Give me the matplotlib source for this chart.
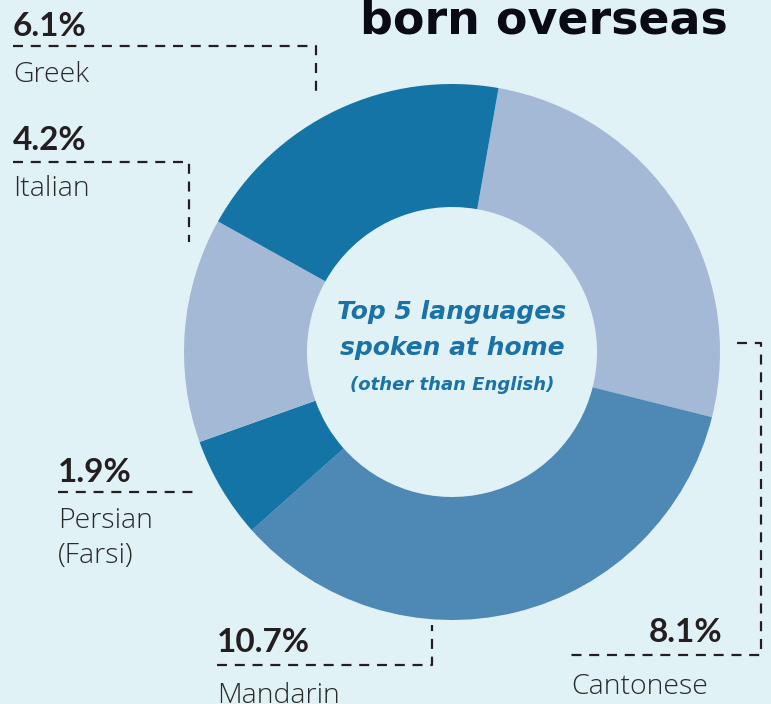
import matplotlib.pyplot as plt

# data
languages = ["Cantonese", "Mandarin", "Persian\n(Farsi)", "Italian", "Greek"]
shares = [8.1, 10.7, 1.9, 4.2, 6.1]
colours = ["#a3b9d6", "#4e88b5", "#1474a6", "#a3b9d6", "#1474a6"]

bg = "#e1f2f7"
ink = "#231f20"
H = 704  # pixel height, layout below is in image pixels (y down)

# label layout: (pct x, pct baseline, name x, name baseline, pct align, leader polyline)
layout = {
    "Greek": (13, 36, 13, 82, "left", [(13, 46), (316, 46), (316, 92)]),
    "Italian": (13, 150, 13, 196, "left", [(13, 162), (189, 162), (189, 242)]),
    "Persian\n(Farsi)": (58, 482, 58, 528, "left", [(58, 492), (198, 492)]),
    "Mandarin": (217, 652, 217, 703, "left", [(217, 665), (432, 665), (432, 625)]),
    "Cantonese": (722, 642, 571, 694, "right",
                  [(737, 343), (761, 343), (761, 655), (571, 655)]),
}

fig = plt.figure(figsize=(7.71, 7.04), dpi=100, facecolor=bg)
ax = fig.add_axes([0, 0, 1, 1])
ax.set_facecolor(bg)

cx, cy, r_out, r_in = 452, H - 352, 268, 145
ax.pie(shares, colors=colours, startangle=80, counterclock=False,
       center=(cx, cy), radius=r_out, frame=True,
       wedgeprops=dict(width=r_out - r_in, linewidth=0))
ax.set_xlim(0, 771)
ax.set_ylim(0, H)
ax.set_aspect("equal")
ax.axis("off")

for name in languages:
    px, py, nx, ny, ha, pts = layout[name]
    ax.text(px, H - py, f"{shares[languages.index(name)]}%", ha=ha, va="baseline",
            fontsize=24, fontweight="bold", family="Lato", color=ink)
    for i, ln in enumerate(name.split("\n")):
        ax.text(nx, H - ny - i * 35, ln, ha="left", va="baseline",
                fontsize=20.5, fontweight=300, family="Open Sans", color="#2a2a2a")
    xs = [p[0] for p in pts]
    ys = [H - p[1] for p in pts]
    ax.plot(xs, ys, color=ink, lw=1.6, dashes=(4.5, 3.5))

# centre text
blue = "#1a72a6"
ax.text(cx, H - 319, "Top 5 languages", ha="center", va="baseline", fontsize=18,
        fontweight="bold", style="italic", color=blue, family="DejaVu Sans")
ax.text(cx, H - 355, "spoken at home", ha="center", va="baseline", fontsize=18,
        fontweight="bold", style="italic", color=blue, family="DejaVu Sans")
ax.text(cx, H - 390, "(other than English)", ha="center", va="baseline", fontsize=13,
        fontweight="bold", style="italic", color=blue, family="DejaVu Sans")

# cropped title
ax.text(728, H - 33, "born overseas", ha="right", va="baseline", fontsize=33,
        fontweight="bold", color="#0a0a14", family="DejaVu Sans")

fig.savefig("out.png", dpi=100, facecolor=bg)
